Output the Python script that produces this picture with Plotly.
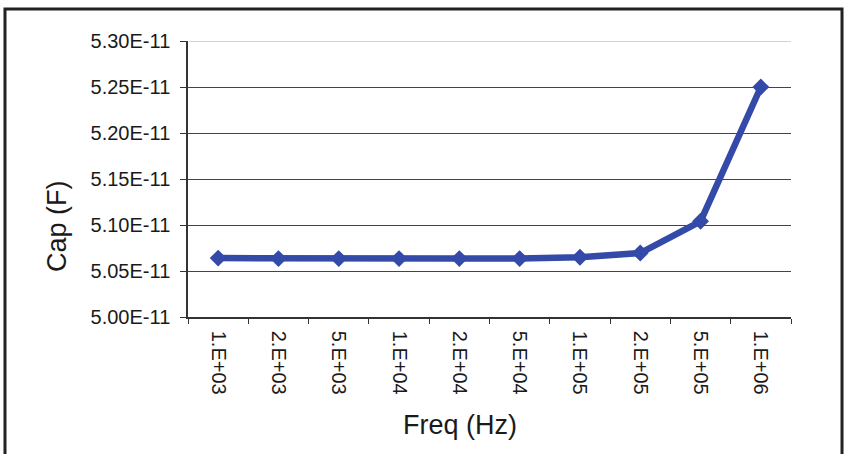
import plotly.graph_objects as go

freq_labels = ["1.E+03", "2.E+03", "5.E+03", "1.E+04", "2.E+04", "5.E+04", "1.E+05", "2.E+05", "5.E+05", "1.E+06"]
cap_values = [5.064e-11, 5.0635e-11, 5.0635e-11, 5.0635e-11, 5.0635e-11, 5.0635e-11, 5.065e-11, 5.0695e-11, 5.104e-11, 5.25e-11]
y_tick_vals = [5.00e-11, 5.05e-11, 5.10e-11, 5.15e-11, 5.20e-11, 5.25e-11, 5.30e-11]
y_tick_text = ["5.00E-11", "5.05E-11", "5.10E-11", "5.15E-11", "5.20E-11", "5.25E-11", "5.30E-11"]
x_title = "Freq (Hz)"
y_title = "Cap (F)"

line_color = "rgb(52,74,168)"
font_family = "Liberation Sans, Arial, sans-serif"
text_color = "#1a1a1a"

fig = go.Figure()
fig.add_trace(go.Scatter(
    x=freq_labels, y=cap_values, mode="lines+markers",
    line=dict(color=line_color, width=6.5),
    marker=dict(symbol="diamond", size=13, color=line_color),
    showlegend=False, cliponaxis=False,
))

fig.update_layout(
    width=846, height=454,
    margin=dict(l=188, r=55, t=41, b=137),
    paper_bgcolor="white", plot_bgcolor="white",
    font=dict(family=font_family, color=text_color, size=20),
    xaxis=dict(
        type="category", tickangle=90, tickson="boundaries",
        ticks="outside", ticklen=5, tickcolor="#333",
        showline=True, linecolor="#333", linewidth=1.5,
        showgrid=False, tickfont=dict(size=20, color=text_color),
        ticklabelstandoff=8,
        range=[-0.5, 9.5],
    ),
    yaxis=dict(
        range=[5.00e-11, 5.30e-11], tickvals=y_tick_vals, ticktext=y_tick_text,
        ticks="outside", ticklen=6, tickcolor="#333",
        showline=True, linecolor="#333", linewidth=1.5,
        showgrid=True, gridcolor="#444", gridwidth=1,
        zeroline=False, tickfont=dict(size=20, color=text_color),
        ticklabelstandoff=6,
    ),
    annotations=[
        dict(text=x_title, xref="paper", yref="paper", x=0.451, y=-0.391,
             showarrow=False, xanchor="center", yanchor="middle",
             font=dict(size=27, color=text_color)),
        dict(text=y_title, xref="paper", yref="paper", x=-0.2172, y=0.3297,
             showarrow=False, xanchor="center", yanchor="middle", textangle=-90,
             font=dict(size=27, color=text_color)),
    ],
    shapes=[
        dict(type="rect", xref="paper", yref="paper",
             x0=-0.3035, x1=1.0846, y0=-0.6, y1=1.116,
             line=dict(color="#222", width=3), fillcolor="rgba(0,0,0,0)", layer="below"),
        dict(type="line", xref="paper", yref="y",
             x0=0.002, x1=1, y0=y_tick_vals[-1], y1=y_tick_vals[-1],
             line=dict(color="#c4c4c4", width=1.5), layer="above"),
    ],
)

fig.write_html("out.html")
